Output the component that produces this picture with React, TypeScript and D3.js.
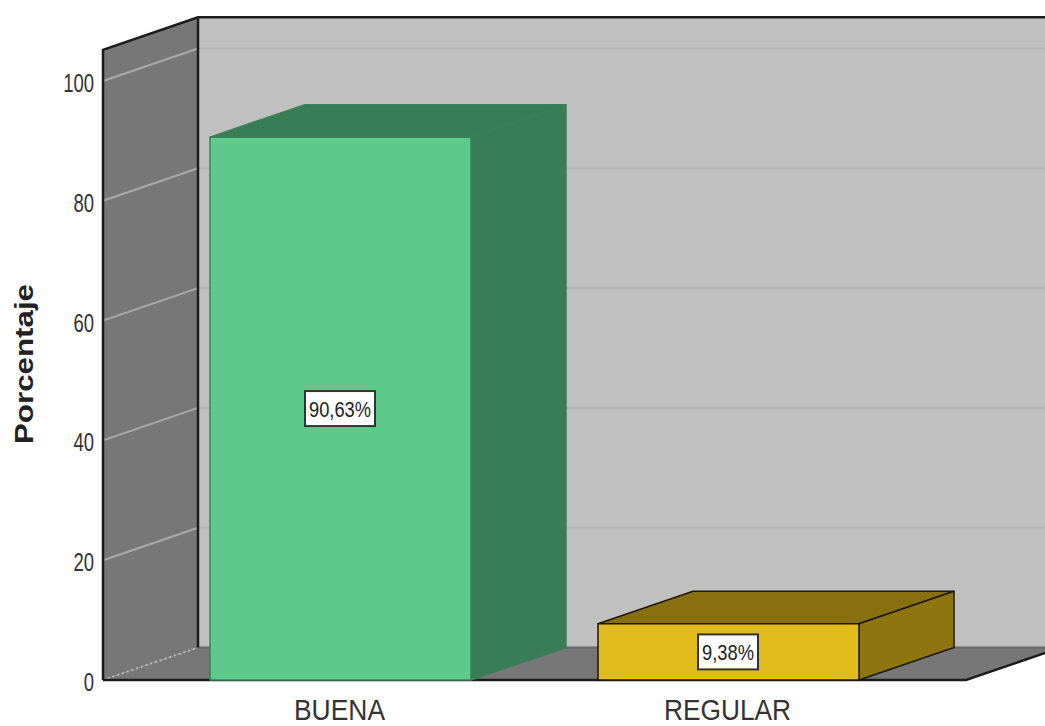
import React from "react";
import * as d3 from "d3";

const categories = ["BUENA", "REGULAR"];
const percentages = [90.63, 9.38];
const valueLabels = ["90,63%", "9,38%"];
const yTicks = [0, 20, 40, 60, 80, 100];
const faceColors = ["#5dca8c", "#e2bc1c"];
const sideColors = ["#397d56", "#8f7510"];
const topColors = ["#397d56", "#887010"];
const outlineColors = ["#3c8058", "#1d1803"];

const WIDTH = 1045;
const HEIGHT = 726;
const DEPTH_X = 95;
const DEPTH_Y = -32.5;
const FONT = "'Liberation Sans', Arial, sans-serif";

const y = d3.scaleLinear().domain([0, 100]).range([680, 81]);
const x = d3.scaleBand<string>().domain(categories).range([210, 859]).paddingInner(127 / 388).paddingOuter(0);

const wallLeft = 103;
const floorRight = 966;
const wallTop = y(105.2);

// Closed polygon path from a list of points
const poly = (pts: [number, number][]) => (d3.line()(pts) ?? "") + "Z";
const back = (px: number, py: number): [number, number] => [px + DEPTH_X, py + DEPTH_Y];

export default function App() {
  const base = y(0);
  const backLeft = wallLeft + DEPTH_X;
  const backRight = floorRight + DEPTH_X;
  return (
    <svg
      width={WIDTH}
      height={HEIGHT}
      viewBox={`0 0 ${WIDTH} ${HEIGHT}`}
      style={{ position: "fixed", left: 0, top: 0, display: "block", background: "#fff" }}
    >
      {/* back wall */}
      <path d={poly([back(wallLeft, wallTop), back(floorRight, wallTop), back(floorRight, base), back(wallLeft, base)])} fill="#c0c0c0" />
      {yTicks.map((t) => (
        <line key={`back-${t}`} x1={backLeft} x2={backRight} y1={y(t) + DEPTH_Y} y2={y(t) + DEPTH_Y} stroke="#b5b5b5" strokeWidth={2} />
      ))}

      {/* side wall */}
      <path d={poly([[wallLeft, wallTop], back(wallLeft, wallTop), back(wallLeft, base), [wallLeft, base]])} fill="#777777" />
      {yTicks.filter((t) => t > 0).map((t) => (
        <line key={`side-${t}`} x1={wallLeft} y1={y(t)} x2={backLeft} y2={y(t) + DEPTH_Y} stroke="#a9a9a9" strokeWidth={2} />
      ))}

      {/* floor */}
      <path d={poly([[wallLeft, base], back(wallLeft, base), back(floorRight, base), [floorRight, base]])} fill="#777777" />
      <line x1={backLeft} x2={backRight} y1={base + DEPTH_Y} y2={base + DEPTH_Y} stroke="#666666" strokeWidth={2} />
      <line x1={wallLeft} y1={base} x2={backLeft} y2={base + DEPTH_Y} stroke="#b8b8b8" strokeWidth={2} strokeDasharray="2 3" />

      {/* frame */}
      <path
        d={d3.line()([[wallLeft, base], [wallLeft, wallTop], back(wallLeft, wallTop), back(floorRight, wallTop)]) ?? ""}
        fill="none"
        stroke="#1c1c1c"
        strokeWidth={2.5}
      />
      <line x1={backLeft} x2={backLeft} y1={wallTop + DEPTH_Y} y2={base + DEPTH_Y} stroke="#1c1c1c" strokeWidth={2.5} />
      <path d={d3.line()([[wallLeft, base], [floorRight, base], back(floorRight, base)]) ?? ""} fill="none" stroke="#1c1c1c" strokeWidth={2.5} />

      {/* bars */}
      {categories.map((c, i) => {
        const x0 = x(c) ?? 0;
        const x1 = x0 + x.bandwidth();
        const top = y(percentages[i]);
        return (
          <g key={c} stroke={outlineColors[i]} strokeWidth={1.5} strokeLinejoin="round">
            <path d={poly([[x0, top], back(x0, top), back(x1, top), [x1, top]])} fill={topColors[i]} />
            <path d={poly([[x1, top], back(x1, top), back(x1, base), [x1, base]])} fill={sideColors[i]} />
            <rect x={x0} y={top} width={x.bandwidth()} height={base - top} fill={faceColors[i]} />
          </g>
        );
      })}

      {/* value labels */}
      {categories.map((c, i) => {
        const cx = (x(c) ?? 0) + x.bandwidth() / 2 - 0.5;
        const cy = (y(percentages[i]) + base) / 2;
        const w = i === 0 ? 70 : 60;
        return (
          <g key={`label-${c}`}>
            <rect x={cx - w / 2} y={cy - 17.5} width={w} height={35} fill="#fff" stroke="#333" strokeWidth={2} />
            <text x={cx} y={cy + 8} textAnchor="middle" fontFamily={FONT} fontSize={22} fill="#222" textLength={i === 0 ? 62 : 52} lengthAdjust="spacingAndGlyphs">
              {valueLabels[i]}
            </text>
          </g>
        );
      })}

      {/* axis text */}
      {yTicks.map((t) => (
        <text
          key={`tick-${t}`}
          transform={`translate(94 ${y(t) + 11}) scale(0.74 1)`}
          textAnchor="end"
          fontFamily={FONT}
          fontSize={25}
          fill="#333"
        >
          {t}
        </text>
      ))}
      {categories.map((c) => (
        <text
          key={`cat-${c}`}
          x={(x(c) ?? 0) + x.bandwidth() / 2 - 1}
          y={719.5}
          textAnchor="middle"
          fontFamily={FONT}
          fontSize={29}
          fill="#333"
          textLength={c === "BUENA" ? 91 : 127}
          lengthAdjust="spacingAndGlyphs"
        >
          {c}
        </text>
      ))}
      <text
        transform="translate(33 364) rotate(-90)"
        textAnchor="middle"
        fontFamily={FONT}
        fontSize={25}
        fontWeight={700}
        fill="#222"
        textLength={160}
        lengthAdjust="spacingAndGlyphs"
      >
        Porcentaje
      </text>
    </svg>
  );
}
